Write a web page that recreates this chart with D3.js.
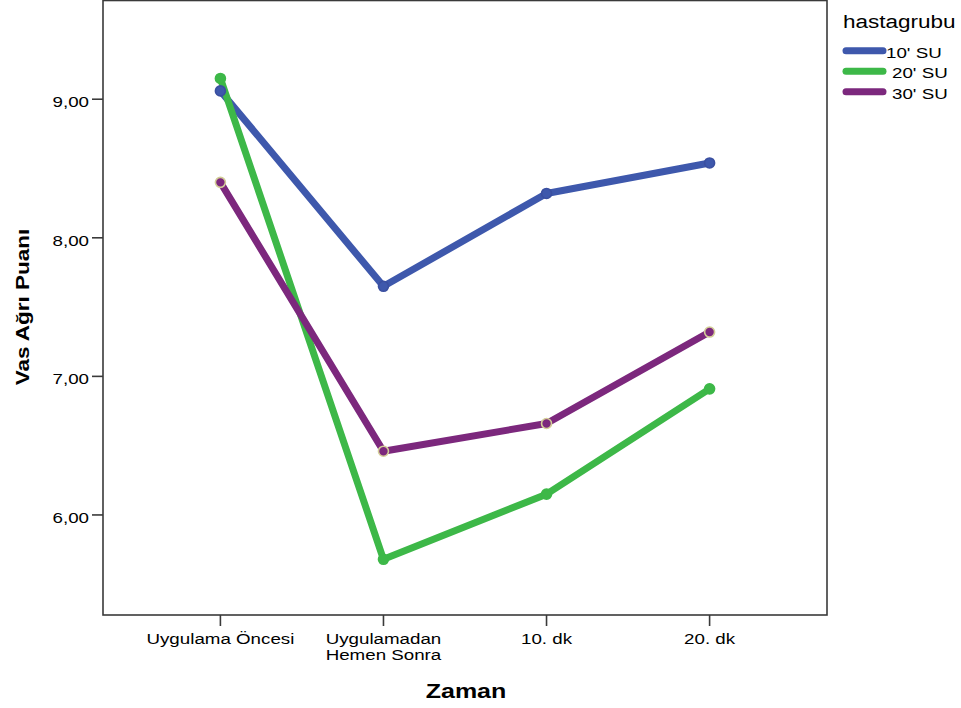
<!DOCTYPE html>
<html>
<head>
<meta charset="utf-8">
<script src="https://cdn.jsdelivr.net/npm/d3@7"></script>
<style>
  html, body { margin: 0; padding: 0; background: #fff; }
  svg { display: block; }
  text { font-family: "Liberation Sans", Arial, sans-serif; fill: #000; }
</style>
</head>
<body>
<svg id="chart" width="961" height="708"></svg>
<script>
// ---- data ----
const categories = ["Uygulama Öncesi", "Uygulamadan\nHemen Sonra", "10. dk", "20. dk"];
const seriesNames = ["10' SU", "20' SU", "30' SU"];
const values10 = [9.06, 7.65, 8.32, 8.54];
const values20 = [9.15, 5.68, 6.15, 6.91];
const values30 = [8.40, 6.46, 6.66, 7.32];
const yTicks = [6, 7, 8, 9];
const colors = ["#3E58AC", "#3DB848", "#7C287D"];
const markerStroke = ["#3A4FA0", "#3DB848", "#D3CE97"];
const legendTitle = "hastagrubu";
const xTitle = "Zaman";
const yTitle = "Vas Ağrı Puanı";

const series = seriesNames.map((name, i) => ({
  name, color: colors[i], stroke: markerStroke[i],
  values: [values10, values20, values30][i]
}));

// ---- layout ----
const svg = d3.select("#chart");
const plot = { left: 103, right: 827, top: 0.5, bottom: 615 };
const SX = 1.25; // horizontal stretch of text in the reference

const x = d3.scalePoint().domain(categories).range([plot.left, plot.right]).padding(0.72);
const y = d3.scaleLinear().domain([5.278, 9.716]).range([plot.bottom, 0]);

// frame
svg.append("rect")
  .attr("x", plot.left).attr("y", plot.top)
  .attr("width", plot.right - plot.left).attr("height", plot.bottom - plot.top)
  .attr("fill", "none").attr("stroke", "#3a3a3a").attr("stroke-width", 1.6);

// y ticks
const yg = svg.append("g");
yTicks.forEach(t => {
  const yy = y(t);
  yg.append("line").attr("x1", plot.left - 11).attr("x2", plot.left)
    .attr("y1", yy).attr("y2", yy).attr("stroke", "#3a3a3a").attr("stroke-width", 1.6);
  yg.append("text")
    .attr("transform", `translate(${plot.left - 14},${yy + 8}) scale(${SX},1)`)
    .attr("text-anchor", "end").attr("font-size", 15).attr("fill", "#222")
    .text(d3.format(".2f")(t).replace(".", ","));
});

// x ticks
const xg = svg.append("g");
categories.forEach(c => {
  const xx = x(c);
  xg.append("line").attr("x1", xx).attr("x2", xx)
    .attr("y1", plot.bottom).attr("y2", plot.bottom + 11)
    .attr("stroke", "#3a3a3a").attr("stroke-width", 1.6);
  c.split("\n").forEach((line, k) => {
    xg.append("text")
      .attr("transform", `translate(${xx},${644 + k * 16}) scale(${SX},1)`)
      .attr("text-anchor", "middle").attr("font-size", 15).attr("fill", "#222")
      .text(line);
  });
});

// axis titles
svg.append("text")
  .attr("transform", `translate(466,698) scale(${SX},1)`)
  .attr("text-anchor", "middle").attr("font-size", 20).attr("font-weight", "bold")
  .text(xTitle);
svg.append("text")
  .attr("transform", `translate(29,307) rotate(-90) scale(${SX},1)`)
  .attr("text-anchor", "middle").attr("font-size", 18).attr("font-weight", "bold")
  .text(yTitle);

// lines
const line = d3.line().x((d, i) => x(categories[i])).y(d => y(d));
series.forEach(s => {
  svg.append("path").datum(s.values)
    .attr("d", line).attr("fill", "none")
    .attr("stroke", s.color).attr("stroke-width", 7)
    .attr("stroke-linejoin", "round").attr("stroke-linecap", "round");
});
series.forEach(s => {
  svg.append("g").selectAll("circle").data(s.values).join("circle")
    .attr("cx", (d, i) => x(categories[i])).attr("cy", d => y(d))
    .attr("r", 5).attr("fill", s.color)
    .attr("stroke", s.stroke).attr("stroke-width", 1.6);
});

// legend
const lg = svg.append("g");
lg.append("text")
  .attr("transform", `translate(843,27.5) scale(${SX},1)`)
  .attr("font-size", 18).attr("fill", "#222").text(legendTitle);
series.forEach((s, i) => {
  const ly = 50.7 + i * 20.5;
  lg.append("line").attr("x1", 846).attr("x2", 883).attr("y1", ly).attr("y2", ly)
    .attr("stroke", s.color).attr("stroke-width", 7).attr("stroke-linecap", "round");
  lg.append("text")
    .attr("transform", `translate(${i === 0 ? 886 : 892},${ly + 7}) scale(${SX},1)`)
    .attr("font-size", 15).attr("fill", "#222").text(s.name);
});
</script>
</body>
</html>
